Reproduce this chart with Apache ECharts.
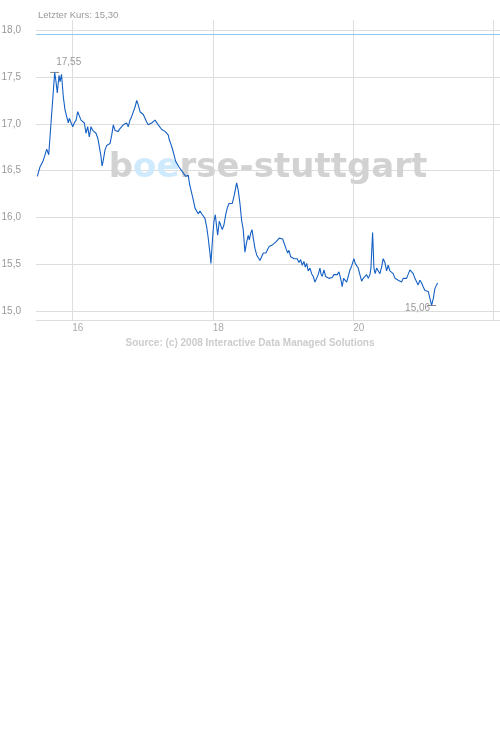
<!DOCTYPE html>
<html>
<head>
<meta charset="utf-8">
<script src="https://cdn.jsdelivr.net/npm/echarts@6/dist/echarts.min.js"></script>
<style>
html,body{margin:0;padding:0;background:#fff;}
#chart{width:500px;height:735px;}
</style>
</head>
<body>
<div id="chart"></div>
<script>
// time of day in hours (decimal)
const times = [15.502,15.540,15.587,15.636,15.664,15.749,15.768,15.786,15.811,15.825,15.846,15.858,
15.872,15.896,15.920,15.943,15.957,15.981,16.006,16.028,16.053,16.077,16.100,16.124,16.148,16.171,16.195,16.219,16.242,16.266,16.290,16.313,16.337,16.362,16.384,16.409,16.423,16.441,16.465,16.490,16.512,16.537,16.561,16.584,16.608,16.632,16.655,16.679,16.703,16.726,16.750,16.774,16.797,16.821,16.846,16.868,16.893,16.917,16.940,16.964,16.988,17.011,17.035,17.059,17.082,17.106,17.130,17.153,17.177,17.201,17.224,17.248,17.273,17.295,17.320,17.344,17.367,17.381,
17.401,17.423,17.448,17.472,17.495,17.519,17.543,17.566,17.590,17.614,17.637,17.651,17.671,17.694,17.722,17.747,17.765,17.794,17.818,17.842,17.865,17.889,17.913,17.932,17.960,17.974,17.999,18.017,18.036,18.056,18.070,18.093,18.112,18.135,18.159,18.184,18.206,18.231,18.252,18.278,18.306,18.340,18.363,18.387,18.411,18.434,
18.458,18.483,18.505,18.520,18.539,18.558,18.577,18.601,18.625,18.648,18.672,18.696,18.719,18.743,18.757,18.782,18.804,18.829,18.853,18.875,18.900,18.924,18.947,18.971,18.995,19.018,19.042,19.066,19.085,19.109,19.132,19.156,19.180,19.203,19.227,19.251,19.274,19.298,19.317,19.337,19.359,19.384,19.408,19.431,19.455,19.479,19.502,19.526,19.540,19.559,19.583,19.607,19.630,19.654,19.678,19.701,19.725,19.749,19.772,19.796,19.821,19.843,19.863,
19.882,19.906,19.929,19.953,19.977,20.010,20.028,20.048,20.071,20.095,20.120,20.142,20.167,20.191,20.214,20.238,20.252,20.276,20.295,20.313,20.333,20.356,20.380,20.404,20.427,20.451,20.475,20.498,20.522,20.547,20.569,20.594,20.641,20.665,20.689,20.712,20.760,20.807,20.831,20.854,20.878,20.902,20.925,20.950,20.974,20.996,21.021,21.045,21.068,21.092,21.116,21.139,21.163,21.187,21.201];
const prices = [16.44,16.54,16.61,16.73,16.67,17.55,17.45,17.33,17.52,17.45,17.53,17.54,
17.29,17.15,17.13,17.01,17.06,17.04,16.97,17.01,17.04,17.13,17.11,17.04,17.02,17.01,16.90,16.97,16.86,16.97,16.93,16.95,16.90,16.85,16.76,16.65,16.55,16.61,16.72,16.77,16.76,16.79,16.88,16.99,16.93,16.95,16.92,16.95,16.97,16.99,16.97,17.01,16.97,17.04,17.08,17.10,17.18,17.25,17.20,17.13,17.15,17.10,17.06,17.02,16.99,16.97,17.01,17.02,17.04,17.02,16.99,16.97,16.94,16.95,16.92,16.93,16.88,16.83,
16.79,16.74,16.67,16.60,16.61,16.54,16.53,16.49,16.47,16.44,16.42,16.45,16.35,16.28,16.19,16.10,16.08,16.04,16.07,16.04,16.03,15.99,15.90,15.80,15.62,15.51,15.80,15.96,16.03,15.90,15.81,15.96,15.92,15.87,15.92,16.03,16.10,16.15,16.15,16.15,16.24,16.37,16.29,16.15,15.97,15.87,
15.63,15.74,15.81,15.76,15.83,15.87,15.78,15.67,15.60,15.57,15.54,15.56,15.62,15.63,15.62,15.66,15.69,15.67,15.71,15.72,15.74,15.75,15.78,15.76,15.77,15.76,15.67,15.62,15.65,15.58,15.60,15.56,15.55,15.56,15.52,15.55,15.49,15.53,15.47,15.51,15.43,15.46,15.40,15.37,15.31,15.29,15.39,15.46,15.40,15.37,15.44,15.37,15.39,15.35,15.37,15.36,15.39,15.37,15.39,15.42,15.35,15.26,15.35,
15.35,15.31,15.37,15.44,15.48,15.56,15.51,15.53,15.46,15.39,15.32,15.35,15.33,15.39,15.35,15.39,15.46,15.84,15.46,15.40,15.46,15.44,15.40,15.47,15.56,15.52,15.43,15.49,15.43,15.42,15.40,15.35,15.33,15.35,15.31,15.35,15.35,15.44,15.46,15.40,15.35,15.33,15.28,15.33,15.30,15.26,15.22,15.24,15.21,15.22,15.06,15.13,15.24,15.28,15.30];
const xGridValues = [16, 18, 20, 22];
const xLabelValues = [16, 18, 20];
const yTicks = [15.0, 15.5, 16.0, 16.5, 17.0, 17.5, 18.0];
const refLevel = 17.96;
const titleText = 'Letzter Kurs: 15,30';
const sourceText = 'Source: (c) 2008 Interactive Data Managed Solutions';

const fmt = v => v.toFixed(2).replace('.', ',');
const seriesData = times.map((t, i) => [t, prices[i]]);
const FONT = '"Liberation Sans", Arial, sans-serif';

const chart = echarts.init(document.getElementById('chart'), null, {renderer: 'canvas'});
chart.setOption({
  animation: false,
  backgroundColor: '#ffffff',
  title: {
    text: titleText,
    left: 33, top: 5,
    textStyle: {fontSize: 9.5, fontWeight: 'normal', color: '#999999', fontFamily: FONT}
  },
  grid: {left: 36, right: 0, top: 20, bottom: 415, containLabel: false, outerBoundsMode: 'none'},
  xAxis: {
    type: 'value',
    min: 15.483, max: 22.09,
    axisLine: {show: true, lineStyle: {color: '#dddddd', width: 1}},
    axisTick: {show: false, customValues: xGridValues},
    axisLabel: {
      customValues: xLabelValues,
      formatter: v => String(Math.round(v)),
      align: 'left', margin: 3,
      color: '#aaaaaa', fontSize: 10, fontFamily: FONT
    },
    splitLine: {show: true, lineStyle: {color: '#dddddd', width: 1}}
  },
  yAxis: {
    type: 'value',
    min: 14.905, max: 18.11,
    axisLine: {show: false},
    axisTick: {show: false, customValues: yTicks},
    axisLabel: {
      customValues: yTicks,
      formatter: v => v.toFixed(1).replace('.', ','),
      margin: 15,
      color: '#999999', fontSize: 10, fontFamily: FONT
    },
    splitLine: {show: true, lineStyle: {color: '#dddddd', width: 1}}
  },
  graphic: [
    {
      type: 'text', z: 1,
      x: 268, y: 168,
      style: {
        text: '{g|b}{bl|oe}{g|rse-stuttgart}',
        align: 'center', verticalAlign: 'middle',
        rich: {
          g: {fill: '#d2d2d2', fontSize: 34, fontWeight: 'bold', fontFamily: '"DejaVu Sans"'},
          bl: {fill: '#cfeafc', fontSize: 34, fontWeight: 'bold', fontFamily: '"DejaVu Sans"'}
        }
      }
    },
    {
      type: 'text', z: 1,
      x: 250, y: 343,
      style: {
        text: sourceText,
        align: 'center', verticalAlign: 'middle',
        fill: '#cccccc', fontSize: 10, fontWeight: 'bold', fontFamily: FONT
      }
    }
  ],
  series: [{
    type: 'line',
    data: seriesData,
    symbol: 'none',
    z: 5,
    lineStyle: {color: '#1560c4', width: 1.1},
    markLine: {
      silent: true,
      symbol: ['none', 'none'],
      label: {show: false},
      lineStyle: {color: '#8fc6f2', width: 1, type: 'solid'},
      data: [{yAxis: refLevel}]
    },
    markPoint: {
      silent: true,
      symbol: 'rect',
      symbolSize: [9, 1],
      itemStyle: {color: '#888888'},
      data: [
        {type: 'max', label: {show: true, position: [6, -15], formatter: p => fmt(p.value), color: '#999999', fontSize: 10, fontFamily: FONT}},
        {type: 'min', label: {show: true, position: [3, -2], align: 'right', verticalAlign: 'top', formatter: p => fmt(p.value), color: '#999999', fontSize: 10, fontFamily: FONT}}
      ]
    }
  }]
});
</script>
</body>
</html>
